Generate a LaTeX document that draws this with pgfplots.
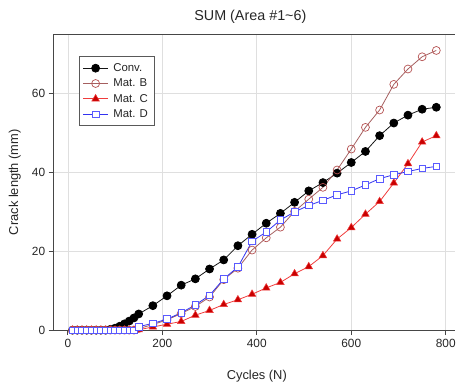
\documentclass[border=0pt]{standalone}
\usepackage{pgfplots}
\pgfplotsset{compat=1.18}
\usepackage{pgfplotstable}
\usepackage{fontspec}
\setmainfont{Liberation Sans}
\definecolor{convc}{RGB}{20,20,20}
\definecolor{matbl}{RGB}{165,95,95}
\definecolor{matbm}{RGB}{180,80,80}
\definecolor{matcl}{RGB}{240,60,60}
\definecolor{matcm}{RGB}{200,0,0}
\definecolor{matdl}{RGB}{50,50,240}
\definecolor{matdm}{RGB}{90,90,255}

\pgfplotstableread{
x conv matb matc matd
10 0 0 0 0
20 0 0 0 0
30 0 0 0 0
40 0 0 0 0
50 0 0 0 0
60 0 0 0 0
70 0 0 0 0
80 0 0 0 0
90 0.2 0 0 0
100 0.5 0 0 0
110 1.0 0 0 0
120 1.6 0 0 0
130 2.3 0 0 0
140 3.1 0 0 0
150 4.1 0.4 0.1 0.9
180 6.2 1.4 0.8 1.7
210 8.7 2.6 1.5 2.8
240 11.4 4.2 2.2 4.4
270 13.0 6.0 3.8 6.4
300 15.5 8.4 5.0 8.8
330 17.8 12.8 6.5 13.0
360 21.4 15.7 7.7 16.0
390 24.3 20.3 9.1 22.5
420 27.1 23.4 10.7 24.9
450 29.6 26.1 12.1 27.9
480 32.4 30.1 14.3 30.0
510 35.3 33.2 16.1 31.6
540 37.4 36.2 18.9 32.9
570 39.8 40.6 23.1 34.3
600 42.5 45.9 26.0 35.3
630 45.3 51.4 29.4 36.8
660 49.3 55.8 32.6 38.4
690 52.5 62.3 37.3 39.4
720 54.5 66.2 42.2 40.2
750 56.0 69.3 47.7 41.0
780 56.5 70.9 49.3 41.5
}\datatable

\begin{document}
\begin{tikzpicture}
\begin{axis}[
  name=ax, at={(0,0)}, anchor=south west,
  scale only axis, width=404.2bp, height=297.8bp,
  xmin=-30, xmax=820, ymin=0, ymax=75,
  axis x line*=box, axis y line*=left,
  xtick={0,200,400,600,800}, ytick={0,20,40,60},
  grid=major, grid style={gray!25, line width=0.6bp},
  axis line style={gray!55!black, line width=0.7bp},
  tick align=outside, major tick length=5bp,
  tick style={gray!55!black, line width=0.7bp},
  xtick pos=left, ytick pos=left,
  clip=false,
  /pgf/number format/assume math mode=true,
  tick label style={font=\fontsize{12}{12}\selectfont, text=black!85},
  xticklabel style={yshift=-1bp},
  label style={font=\fontsize{13}{13}\selectfont, text=black!85},
  title={SUM (Area \#1\textasciitilde 6)},
  title style={font=\fontsize{14.5}{14.5}\selectfont, text=black!85, at={(axis description cs:0.4899,1.027)}, anchor=base},
  xlabel={Cycles (N)},
  xlabel style={at={(axis description cs:0.5059,-0.168)}, anchor=base},
  ylabel={Crack length (mm)},
  ylabel style={at={(axis description cs:-0.0965,0.5)}, anchor=center},
  legend style={at={(axis description cs:0.0619,0.926)}, anchor=north west,
    draw=gray!70!black, line width=0.7bp, fill=white,
    font=\fontsize{11.5}{11.5}\selectfont, text=black!85,
    inner xsep=4bp, inner ysep=5bp, row sep=2bp,
    cells={anchor=west},
    /tikz/every odd column/.append style={column sep=3bp}},
  legend image code/.code={
    \draw[mark repeat=2,mark phase=2] plot coordinates {(0cm,0cm) (0.44cm,0cm) (0.88cm,0cm)};
  },
]
\addplot[convc, line width=0.8bp, mark=*, mark size=4bp, mark options={fill=black, draw=black}] table[x=x,y=conv] {\datatable};
\addlegendentry{Conv.}
\addplot[matbl, line width=0.8bp, mark=o, mark size=4bp, mark options={fill=white, draw=matbm, line width=0.7bp}] table[x=x,y=matb] {\datatable};
\addlegendentry{Mat. B}
\addplot[matcl, line width=0.8bp, mark=triangle*, mark size=4.4bp, mark options={fill=matcm, draw=matcl, line width=0.5bp}] table[x=x,y=matc] {\datatable};
\addlegendentry{Mat. C}
\addplot[matdl, line width=0.8bp, mark=square*, mark size=3.3bp, mark options={fill=white, draw=matdm, line width=0.7bp}] table[x=x,y=matd] {\datatable};
\addlegendentry{Mat. D}
\end{axis}
\pgfresetboundingbox
\useasboundingbox (-54bp,-51.7bp) rectangle (406bp,332.3bp);
\end{tikzpicture}
\end{document}
